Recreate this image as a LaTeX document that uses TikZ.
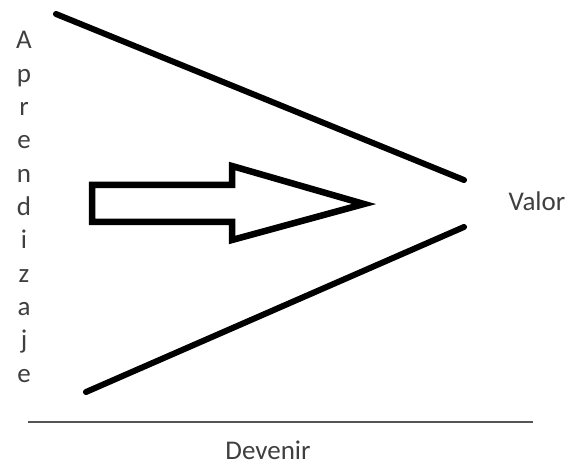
\documentclass[tikz,border=0pt]{standalone}
\usepackage{fontspec}
\setmainfont{Carlito}
\definecolor{txtgray}{HTML}{3F3F3F}
\definecolor{axisgray}{HTML}{555555}
\begin{document}
\begin{tikzpicture}[x=1pt,y=-1pt,
  vline/.style={line width=6pt,line cap=round,black},
  arrowshape/.style={line width=6.5pt,line join=miter,black},
  lbl/.style={font=\fontsize{27}{30}\selectfont,text=txtgray,inner sep=0pt},
  axisline/.style={line width=2.5pt,axisgray}]
\useasboundingbox (0,0) rectangle (579,468);
% V lines
\coordinate (t1) at (56,14);
\coordinate (t2) at (464,180);
\coordinate (b1) at (86,392);
\coordinate (b2) at (464,227);
\draw[vline] (t1) -- (t2);
\draw[vline] (b1) -- (b2);
% hollow arrow
\coordinate (a1) at (92,185);
\coordinate (a2) at (232,185);
\coordinate (a3) at (232,166);
\coordinate (a4) at (364,204);
\coordinate (a5) at (232,240);
\coordinate (a6) at (232,222);
\coordinate (a7) at (92,222);
\draw[arrowshape] (a1) -- (a2) -- (a3) -- (a4) -- (a5) -- (a6) -- (a7) -- cycle;
% vertical label
\foreach \ch [count=\i from 0] in {A,p,r,e,n,d,i,z,a,j,e}
  \node[lbl,anchor=base] (l\i) at (24,{49+33.3*\i}) {\ch};
% Valor
\node[lbl,anchor=base] (valor) at (537,211) {Valor};
% axis
\coordinate (h1) at (28,422);
\coordinate (h2) at (533,422);
\draw[axisline] (h1) -- (h2);
\node[lbl,anchor=base] (devenir) at (268,459) {Devenir};
\end{tikzpicture}
\end{document}
